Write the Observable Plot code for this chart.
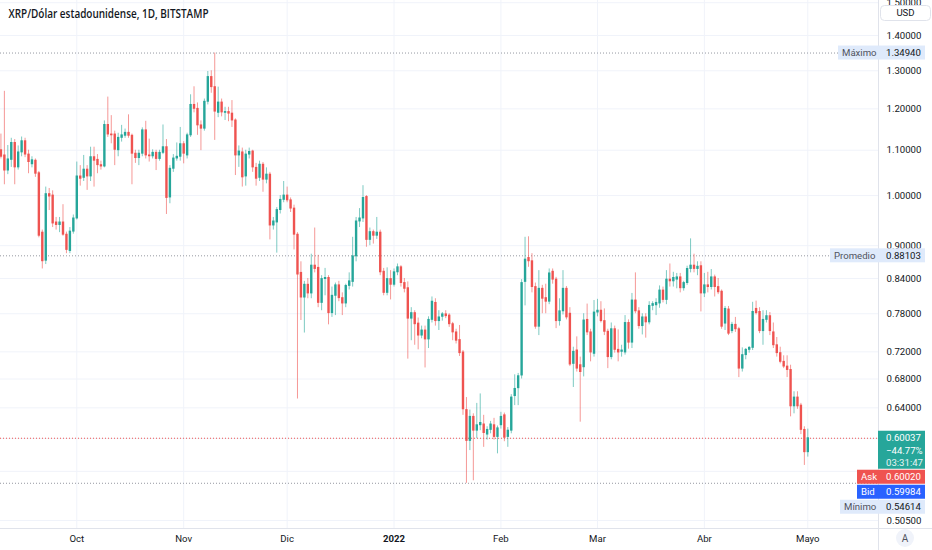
<!DOCTYPE html>
<html>
<head>
<meta charset="utf-8">
<script src="https://cdn.jsdelivr.net/npm/d3@7"></script>
<script src="https://cdn.jsdelivr.net/npm/@observablehq/plot@0.6"></script>
<style>
html, body { margin: 0; padding: 0; background: #ffffff; }
#chart { width: 932px; height: 550px; overflow: hidden; position: relative; }
</style>
</head>
<body>
<div id="chart"></div>
<script>
// ---------------- DATA ----------------
const titleText = "XRP/Dólar estadounidense, 1D, BITSTAMP";
const firstDay = "2021-09-09";   // one daily candle per day from here

const open = [
  // Sep 9 – Sep 30
  1.100,1.088,1.054,1.078,1.117,1.061,1.095,1.121,1.090,1.068,1.076,1.048,0.925,0.872,1.003,1.000,0.945,0.940,0.945,0.921,0.890,0.927,
  // Oct
  0.953,1.041,1.038,1.056,1.041,1.084,1.078,1.066,1.063,1.160,1.137,1.137,1.100,1.129,1.134,1.141,1.134,1.092,1.082,1.092,1.147,1.088,1.086,1.094,1.080,1.094,1.107,0.996,1.058,1.081,1.085,
  // Nov
  1.114,1.088,1.135,1.210,1.200,1.159,1.151,1.218,1.283,1.256,1.190,1.216,1.190,1.192,1.188,1.171,1.088,1.095,1.041,1.090,1.097,1.060,1.038,1.067,1.034,1.045,0.939,0.945,0.970,0.991,
  // Dec
  1.000,0.990,0.973,0.921,0.850,0.807,0.829,0.814,0.863,0.859,0.798,0.839,0.841,0.781,0.810,0.828,0.806,0.797,0.827,0.834,0.880,0.947,0.953,0.997,0.911,0.926,0.919,0.925,0.852,0.815,0.839,
  // Jan
  0.829,0.851,0.860,0.832,0.823,0.772,0.781,0.764,0.745,0.753,0.739,0.770,0.798,0.768,0.775,0.779,0.777,0.763,0.750,0.738,0.719,0.637,0.597,0.628,0.610,0.617,0.618,0.605,0.611,0.617,0.602,
  // Feb
  0.617,0.630,0.602,0.610,0.656,0.667,0.685,0.834,0.877,0.871,0.825,0.759,0.822,0.806,0.800,0.852,0.838,0.768,0.784,0.822,0.780,0.702,0.722,0.700,0.697,0.770,0.750,0.717,
  // Mar
  0.782,0.785,0.768,0.751,0.712,0.755,0.723,0.720,0.719,0.765,0.734,0.802,0.784,0.760,0.774,0.766,0.793,0.794,0.797,0.819,0.803,0.838,0.835,0.838,0.842,0.823,0.832,0.857,0.863,0.857,0.862,
  // Apr
  0.814,0.828,0.825,0.842,0.825,0.817,0.764,0.787,0.752,0.762,0.755,0.695,0.715,0.723,0.726,0.788,0.783,0.752,0.770,0.776,0.750,0.730,0.718,0.705,0.698,0.693,0.642,0.654,0.643,0.611,
  // May 1
  0.583
];
const high = [
  1.138,1.245,1.111,1.128,1.125,1.110,1.131,1.128,1.100,1.085,1.080,1.052,0.930,1.018,1.015,1.010,0.955,0.955,0.981,0.926,0.935,0.960,
  1.073,1.065,1.088,1.065,1.107,1.107,1.090,1.075,1.170,1.230,1.183,1.145,1.140,1.159,1.150,1.185,1.138,1.100,1.100,1.153,1.169,1.126,1.101,1.100,1.100,1.160,1.125,1.065,1.090,1.117,1.154,
  1.120,1.140,1.236,1.257,1.215,1.170,1.225,1.298,1.300,1.3494,1.256,1.225,1.204,1.204,1.221,1.175,1.110,1.105,1.100,1.105,1.100,1.070,1.075,1.072,1.060,1.050,0.955,0.975,1.000,1.030,
  1.018,0.995,0.980,0.925,0.870,0.835,0.840,0.884,0.934,0.882,0.845,0.858,0.845,0.825,0.832,0.835,0.815,0.830,0.850,0.916,0.955,0.973,1.021,1.000,0.934,0.930,0.955,0.930,0.858,0.859,0.854,
  0.857,0.866,0.863,0.840,0.834,0.790,0.785,0.773,0.760,0.760,0.775,0.808,0.805,0.785,0.782,0.785,0.780,0.766,0.755,0.761,0.722,0.654,0.637,0.632,0.646,0.659,0.630,0.615,0.622,0.626,0.616,
  0.634,0.633,0.614,0.658,0.686,0.688,0.838,0.916,0.917,0.885,0.832,0.854,0.828,0.830,0.857,0.857,0.842,0.805,0.854,0.826,0.790,0.727,0.743,0.712,0.780,0.796,0.755,0.802,
  0.804,0.800,0.788,0.755,0.765,0.760,0.754,0.730,0.777,0.770,0.814,0.850,0.790,0.780,0.780,0.800,0.800,0.805,0.827,0.825,0.854,0.866,0.851,0.849,0.849,0.835,0.862,0.913,0.884,0.870,0.870,
  0.849,0.851,0.856,0.846,0.840,0.820,0.792,0.792,0.766,0.774,0.758,0.726,0.725,0.728,0.799,0.801,0.790,0.785,0.785,0.782,0.765,0.742,0.727,0.714,0.714,0.700,0.662,0.662,0.646,0.615,
  0.612
];
const low = [
  1.080,1.023,1.045,1.061,1.023,1.055,1.085,1.083,1.047,1.060,1.039,0.915,0.857,0.865,0.969,0.935,0.930,0.925,0.918,0.885,0.885,0.922,
  0.950,1.020,1.030,1.011,1.030,1.018,1.047,1.055,1.060,1.130,1.115,1.065,1.085,1.119,1.128,1.128,1.023,1.070,1.065,1.085,1.080,1.073,1.080,1.054,1.075,1.090,0.961,0.983,1.050,1.075,1.075,
  1.069,1.080,1.130,1.190,1.135,1.099,1.145,1.210,1.240,1.123,1.178,1.180,1.171,1.168,1.154,1.043,1.061,1.018,1.020,1.080,1.050,1.020,1.030,1.007,1.025,0.911,0.930,0.886,0.962,0.985,
  0.985,0.965,0.892,0.652,0.769,0.749,0.805,0.805,0.850,0.790,0.785,0.810,0.762,0.774,0.777,0.800,0.777,0.790,0.820,0.825,0.870,0.935,0.945,0.897,0.900,0.903,0.912,0.845,0.810,0.810,0.803,
  0.825,0.845,0.825,0.815,0.709,0.737,0.730,0.723,0.740,0.696,0.725,0.765,0.760,0.753,0.768,0.772,0.758,0.737,0.732,0.713,0.630,0.5461,0.585,0.549,0.600,0.610,0.589,0.598,0.606,0.598,0.581,
  0.612,0.596,0.589,0.606,0.643,0.643,0.680,0.793,0.860,0.815,0.755,0.745,0.780,0.780,0.795,0.830,0.756,0.760,0.778,0.770,0.698,0.668,0.690,0.621,0.683,0.745,0.705,0.712,
  0.775,0.765,0.745,0.695,0.708,0.718,0.705,0.712,0.715,0.724,0.725,0.780,0.755,0.746,0.741,0.762,0.785,0.777,0.789,0.798,0.795,0.825,0.825,0.822,0.815,0.818,0.828,0.850,0.850,0.845,0.783,
  0.807,0.815,0.820,0.808,0.812,0.755,0.753,0.745,0.748,0.750,0.682,0.690,0.708,0.718,0.722,0.778,0.748,0.730,0.765,0.745,0.725,0.712,0.702,0.695,0.682,0.628,0.632,0.638,0.605,0.567,
  0.577
];
const close = [
  1.085,1.054,1.079,1.117,1.061,1.095,1.121,1.090,1.073,1.077,1.047,0.919,0.871,1.003,0.998,0.943,0.940,0.945,0.921,0.892,0.927,0.953,
  1.041,1.036,1.056,1.041,1.084,1.076,1.066,1.063,1.160,1.137,1.135,1.101,1.129,1.135,1.141,1.134,1.092,1.082,1.092,1.147,1.088,1.086,1.094,1.080,1.094,1.107,0.995,1.058,1.081,1.085,1.114,
  1.092,1.135,1.210,1.200,1.159,1.151,1.218,1.283,1.256,1.193,1.216,1.191,1.192,1.188,1.171,1.088,1.097,1.039,1.090,1.096,1.061,1.036,1.067,1.034,1.045,0.939,0.947,0.970,0.991,1.000,
  0.990,0.973,0.921,0.847,0.807,0.829,0.814,0.863,0.857,0.798,0.839,0.841,0.781,0.810,0.828,0.806,0.797,0.827,0.835,0.880,0.947,0.953,0.995,0.911,0.926,0.919,0.925,0.851,0.815,0.839,0.829,
  0.851,0.860,0.832,0.822,0.772,0.781,0.763,0.745,0.753,0.739,0.770,0.800,0.768,0.774,0.779,0.776,0.763,0.750,0.737,0.718,0.638,0.597,0.628,0.610,0.617,0.620,0.607,0.611,0.618,0.602,0.613,
  0.628,0.601,0.610,0.654,0.666,0.684,0.832,0.874,0.871,0.825,0.759,0.822,0.805,0.800,0.849,0.838,0.768,0.784,0.822,0.774,0.701,0.720,0.695,0.690,0.769,0.750,0.719,0.782,
  0.785,0.768,0.751,0.712,0.755,0.723,0.719,0.722,0.765,0.734,0.802,0.784,0.760,0.774,0.766,0.793,0.796,0.798,0.819,0.803,0.838,0.835,0.841,0.842,0.823,0.832,0.857,0.863,0.857,0.861,0.814,
  0.828,0.825,0.842,0.825,0.816,0.759,0.788,0.748,0.762,0.755,0.695,0.715,0.723,0.726,0.783,0.781,0.752,0.770,0.776,0.752,0.730,0.718,0.705,0.698,0.693,0.642,0.654,0.642,0.611,0.583,
  0.60037
];

const monthDates  = ["2021-10-01","2021-11-01","2021-12-01","2022-01-01","2022-02-01","2022-03-01","2022-04-01","2022-05-01"];
const monthLabels = ["Oct","Nov","Dic","2022","Feb","Mar","Abr","Mayo"];
const yLabelTicks = [1.5, 1.4, 1.3, 1.2, 1.1, 1.0, 0.9, 0.84, 0.78, 0.72, 0.68, 0.64, 0.505];
const yHiddenTicks = [0.60, 0.56];

const maxValue = 1.3494, maxText = "1.34940", maxName = "Máximo";
const avgValue = 0.88103, avgText = "0.88103", avgName = "Promedio";
const minValue = 0.54614, minText = "0.54614", minName = "Mínimo";
const lastValue = 0.60037, lastText = "0.60037", changeText = "\u221244.77%", timerText = "03:31:47";
const askValue = 0.6002, askText = "0.60020", askName = "Ask";
const bidValue = 0.59984, bidText = "0.59984", bidName = "Bid";
const currencyText = "USD";

// ---------------- BUILD ----------------
const GREEN = "#26a69a", RED = "#ef5350", BLUE = "#2962ff";
const TAG_BG = "#dfeafb", TXT = "#131722", GRID = "#f0f3fa", BORDER = "#e0e3eb";
const FONT = "Roboto, 'Liberation Sans', Arial, sans-serif";
const FS = 9.6;

const day0 = new Date(firstDay + "T00:00:00Z");
const dates = d3.utcDay.range(day0, d3.utcDay.offset(day0, open.length));
const candles = dates.map((date, i) => ({date, open: open[i], high: high[i], low: low[i], close: close[i]}));
const months = monthDates.map((d, i) => ({date: new Date(d + "T00:00:00Z"), label: monthLabels[i], year: /^\d{4}$/.test(monthLabels[i])}));
const colorOf = d => d.close >= d.open ? GREEN : RED;

const chart = Plot.plot({
  width: 932, height: 550,
  marginTop: 0, marginRight: 54, marginBottom: 22, marginLeft: 0,
  style: {fontFamily: FONT, fontSize: FS + "px", color: TXT, background: "#ffffff"},
  x: {type: "utc", domain: [new Date("2021-09-08T21:00:00Z"), new Date("2022-05-21T12:00:00Z")], axis: null},
  y: {type: "log", domain: [0.4966, 1.507]},
  marks: [
    Plot.ruleY([...yLabelTicks, ...yHiddenTicks], {stroke: GRID}),
    Plot.ruleX(months, {x: "date", stroke: GRID}),
    Plot.ruleY([maxValue, avgValue, minValue], {stroke: "#9598a1", strokeDasharray: "1,2"}),
    Plot.ruleY([lastValue], {stroke: RED, strokeDasharray: "1,2"}),
    // wicks
    Plot.ruleX(candles, {x: "date", y1: "low", y2: "high", stroke: colorOf, strokeOpacity: 0.6}),
    // bodies
    Plot.ruleX(candles, {x: "date", y1: d => Math.max(d.open, d.close), y2: d => Math.min(d.open, d.close),
      stroke: colorOf, strokeWidth: 2.4, insetTop: -0.45, insetBottom: -0.45}),
    Plot.axisY(yLabelTicks, {anchor: "right", tickSize: 0, tickPadding: 8, tickFormat: d3.format(".5f"), label: null, fill: TXT, fontSize: FS}),
    Plot.text(months.filter(d => !d.year), {x: "date", text: "label", frameAnchor: "bottom", dy: 10, lineAnchor: "middle", fill: TXT, fontSize: FS}),
    Plot.text(months.filter(d => d.year), {x: "date", text: "label", frameAnchor: "bottom", dy: 10, lineAnchor: "middle", fill: TXT, fontSize: FS, fontWeight: "bold"}),
    Plot.text([titleText], {text: d => d, frameAnchor: "top-left", textAnchor: "start", dx: 8, dy: 14, lineAnchor: "middle",
      fill: TXT, fontSize: 12, fontWeight: 600, fontFamily: "'Open Sans', Roboto, sans-serif", className: "chart-title"})
  ]
});
document.getElementById("chart").appendChild(chart);

// ---- overlay tags drawn with the plot's own y scale ----
const ys = chart.scale("y");
const svg = d3.select(chart);
svg.selectAll(".chart-title text").attr("textLength", 200).attr("lengthAdjust", "spacingAndGlyphs");

// axis separators
const deco = svg.append("g");
deco.append("line").attr("x1", 878.5).attr("x2", 878.5).attr("y1", 0).attr("y2", 550).attr("stroke", BORDER);
deco.append("line").attr("x1", 0).attr("x2", 932).attr("y1", 528.5).attr("y2", 528.5).attr("stroke", BORDER);

const tags = svg.append("g").attr("font-family", FONT).attr("font-size", FS).attr("text-anchor", "start");
function box(x, yc, w, h, fill) {
  tags.append("rect").attr("x", x).attr("y", yc - h / 2).attr("width", w).attr("height", h).attr("fill", fill);
}
function txt(x, yc, s, fill, extra) {
  const t = tags.append("text").attr("x", x).attr("y", yc).attr("dy", "0.35em")
    .attr("text-anchor", "start").attr("fill", fill).text(s);
  if (extra) extra(t);
  return t;
}
function statTag(value, name, valueText, nameX, yOverride) {
  const yc = yOverride ?? ys.apply(value);
  box(nameX, yc, 878 - nameX, 14, TAG_BG);
  box(878, yc, 47, 14, TAG_BG);
  txt(nameX + 4, yc, name, "#50535e");
  txt(886, yc, valueText, TXT);
}
statTag(maxValue, maxName, maxText, 838);
statTag(avgValue, avgName, avgText, 830);

// last price tag block
const yl = ys.apply(lastValue);
tags.append("rect").attr("x", 878).attr("y", yl - 7).attr("width", 47).attr("height", 38).attr("fill", GREEN);
txt(886, yl, lastText, "#ffffff");
txt(886, yl + 12.5, changeText, "#ffffff");
txt(886, yl + 25, timerText, "#e6f4f3");
// ask / bid
box(857, yl + 39, 68, 14, RED);
txt(861, yl + 39, askName, "#ffffff");
txt(886, yl + 39, askText, "#ffffff");
box(857, yl + 54, 68, 14, BLUE);
txt(861, yl + 54, bidName, "#ffffff");
txt(886, yl + 54, bidText, "#ffffff");
statTag(minValue, minName, minText, 840, Math.max(ys.apply(minValue), yl + 69));

// currency box
tags.append("rect").attr("x", 880.5).attr("y", 5.5).attr("width", 50).attr("height", 15).attr("rx", 4)
  .attr("fill", "#ffffff").attr("stroke", BORDER);
txt(905.5, 13, currencyText, TXT, t => t.attr("text-anchor", "middle"));

// auto-scale button
tags.append("circle").attr("cx", 905).attr("cy", 538).attr("r", 9).attr("fill", GRID);
txt(905, 538, "A", "#50535e", t => t.attr("text-anchor", "middle").attr("font-size", 10));
</script>
</body>
</html>
